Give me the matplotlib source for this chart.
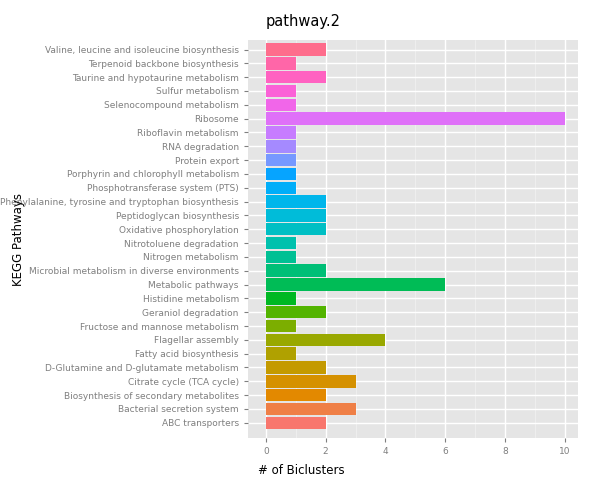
import numpy as np
import matplotlib
matplotlib.use("Agg")
import matplotlib.pyplot as plt
from matplotlib.ticker import MultipleLocator

pathways = [
    "ABC transporters", "Bacterial secretion system",
    "Biosynthesis of secondary metabolites", "Citrate cycle (TCA cycle)",
    "D-Glutamine and D-glutamate metabolism", "Fatty acid biosynthesis",
    "Flagellar assembly", "Fructose and mannose metabolism",
    "Geraniol degradation", "Histidine metabolism", "Metabolic pathways",
    "Microbial metabolism in diverse environments", "Nitrogen metabolism",
    "Nitrotoluene degradation", "Oxidative phosphorylation",
    "Peptidoglycan biosynthesis",
    "Phenylalanine, tyrosine and tryptophan biosynthesis",
    "Phosphotransferase system (PTS)",
    "Porphyrin and chlorophyll metabolism", "Protein export",
    "RNA degradation", "Riboflavin metabolism", "Ribosome",
    "Selenocompound metabolism", "Sulfur metabolism",
    "Taurine and hypotaurine metabolism", "Terpenoid backbone biosynthesis",
    "Valine, leucine and isoleucine biosynthesis",
]
counts = [2, 3, 2, 3, 2, 1, 4, 1, 2, 1, 6, 2, 1, 1, 2, 2, 2, 1, 1, 1,
          1, 1, 10, 1, 1, 2, 1, 2]


def hcl(h, c=100, l=65):
    # polar Luv -> sRGB, like R's hcl()
    xn, yn, zn = 95.047, 100.0, 108.883
    d = xn + 15 * yn + 3 * zn
    un, vn = 4 * xn / d, 9 * yn / d
    u, v = c * np.cos(np.radians(h)), c * np.sin(np.radians(h))
    y = yn * ((l + 16) / 116) ** 3
    up, vp = u / (13 * l) + un, v / (13 * l) + vn
    x = y * 9 * up / (4 * vp)
    z = y * (12 - 3 * up - 20 * vp) / (4 * vp)
    m = np.array([[3.2404542, -1.5371385, -0.4985314],
                  [-0.9692660, 1.8760108, 0.0415560],
                  [0.0556434, -0.2040259, 1.0572252]])
    rgb = m @ (np.array([x, y, z]) / 100)
    rgb = np.where(rgb <= 0.0031308, 12.92 * rgb,
                   1.055 * np.clip(rgb, 0, None) ** (1 / 2.4) - 0.055)
    return tuple(np.clip(rgb, 0, 1))


n = len(pathways)
hues = np.linspace(15, 375, n + 1)[:-1]
colors = [hcl(h) for h in hues]

fig = plt.figure(figsize=(6, 4.8), dpi=100)
ax = fig.add_axes([0.413, 0.0875, 0.55, 0.8295])
ax.set_facecolor("#E5E5E5")
ypos = np.arange(n)
ax.barh(ypos, counts, height=0.9, color=colors, zorder=3)
ax.set_xlim(-0.6, 10.43)
ax.set_ylim(-1.1, n - 0.3)
ax.xaxis.set_major_locator(MultipleLocator(2))
ax.xaxis.set_minor_locator(MultipleLocator(1))
ax.set_yticks(ypos)
ax.set_yticklabels(pathways)
ax.grid(which="major", color="white", linewidth=1.0, zorder=0)
ax.grid(which="minor", axis="x", color="#F2F2F2", linewidth=0.5, zorder=0)
ax.set_axisbelow(True)
for s in ax.spines.values():
    s.set_visible(False)
ax.tick_params(which="both", colors="#7F7F7F", labelcolor="#7F7F7F",
               labelsize=6.5, length=3)
ax.tick_params(which="minor", length=0)
fig.text(0.443, 0.945, "pathway.2", fontsize=10.5)
fig.text(0.43, 0.012, "# of Biclusters", fontsize=8.5)
fig.text(0.02, 0.5, "KEGG Pathways", fontsize=8.5, rotation=90, va="center")
fig.savefig("out.png", dpi=100)
